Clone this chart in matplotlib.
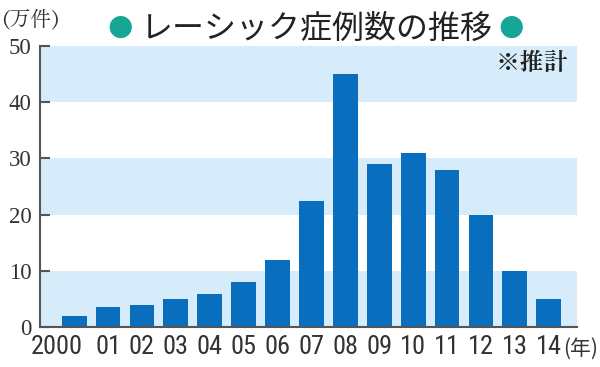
import matplotlib
matplotlib.use("Agg")
import matplotlib.pyplot as plt
from matplotlib.transforms import ScaledTranslation, blended_transform_factory

years = ["2000", "01", "02", "03", "04", "05", "06", "07", "08", "09", "10", "11", "12", "13", "14"]
cases = [2.0, 3.5, 3.9, 4.9, 5.9, 8.0, 12.0, 22.4, 45.0, 29.0, 31.0, 28.0, 20.0, 10.0, 5.0]
yticks = [0, 10, 20, 30, 40, 50]
title = "レーシック症例数の推移"
unit_label = "(万件)"
year_suffix = "(年)"
note = "※推計"

CJK = ["Noto Sans CJK JP", "DejaVu Sans"]
MINCHO = ["Zen Old Mincho", "Shippori Mincho", "Noto Sans CJK JP", "DejaVu Sans"]
COND = "Roboto Condensed"
SERIF = "Liberation Serif"

bar_color = "#0a6ebf"
band_color = "#d6ecfa"
dot_color = "#17a596"
axis_color = "#555555"
text_color = "#333333"

fig = plt.figure(figsize=(6.0, 3.67), dpi=100)
ax = fig.add_axes([0.066, 0.109, 0.896, 0.766])

for lo in range(0, 50, 20):
    ax.axhspan(lo, lo + 10, color=band_color, zorder=0, lw=0)

x = list(range(len(years)))
ax.bar(x, cases, width=0.73, color=bar_color, zorder=2)

ax.set_xlim(-1.02, 14.84)
ax.set_ylim(0, 50)

for s in ["top", "right"]:
    ax.spines[s].set_visible(False)
for s in ["left", "bottom"]:
    ax.spines[s].set_color(axis_color)
    ax.spines[s].set_linewidth(1.5)
    ax.spines[s].set_zorder(3)

ax.set_yticks(yticks)
ax.set_yticklabels([str(v) for v in yticks])
ax.tick_params(axis="y", direction="in", length=7, width=1.5, color=axis_color, pad=6,
               labelsize=16.5, labelcolor=text_color, labelfontfamily=SERIF)

ax.set_xticks(x)
ax.set_xticklabels(years)
ax.tick_params(axis="x", length=0, pad=6, labelsize=19, labelcolor=text_color,
               labelfontfamily=COND)
lbl0 = ax.get_xticklabels()[0]
lbl0.set_transform(lbl0.get_transform() + ScaledTranslation(-17 / 100, 0, fig.dpi_scale_trans))

trans = blended_transform_factory(ax.transData, ax.transAxes)
ax.text(14.42, -0.0996, year_suffix, transform=trans, ha="left", va="baseline",
        fontfamily=CJK, fontsize=15, color=text_color)

fig.text(0.003, 0.978, unit_label, ha="left", va="top", fontfamily=MINCHO, fontsize=15, color=text_color)

fig.text(0.529, 0.92, title, ha="center", va="center", fontfamily=CJK, fontsize=23, color="#222222")
fig.text(0.2, 0.927, "●", ha="center", va="center", fontfamily=["DejaVu Sans"], fontsize=21, color=dot_color)
fig.text(0.851, 0.927, "●", ha="center", va="center", fontfamily=["DejaVu Sans"], fontsize=21, color=dot_color)

ax.text(0.983, 0.975, note, transform=ax.transAxes, ha="right", va="top",
        fontfamily=MINCHO, fontsize=17.5, fontweight="bold", color="#222222", zorder=4)

fig.savefig("out.png", dpi=100, facecolor="white")
